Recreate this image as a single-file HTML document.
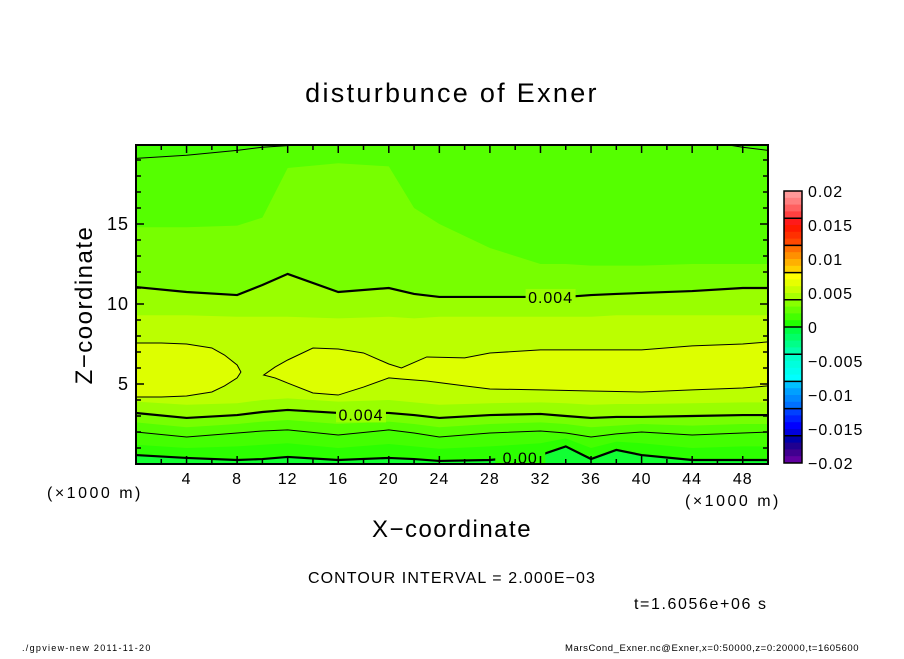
<!DOCTYPE html>
<html><head><meta charset="utf-8">
<style>
html,body{margin:0;padding:0;background:#fff;}
svg text{font-family:"Liberation Sans",sans-serif;fill:#000;}
</style></head>
<body>
<svg id="chart" width="904" height="654" viewBox="0 0 904 654" xmlns="http://www.w3.org/2000/svg">
<defs><clipPath id="pc"><rect x="136" y="145" width="632" height="319"/></clipPath></defs>
<rect x="0" y="0" width="904" height="654" fill="#fff"/>
<text x="452" y="102" font-size="27" text-anchor="middle" letter-spacing="2.3">disturbunce of Exner</text>
<g id="fills" clip-path="url(#pc)"></g>
<g id="lines" clip-path="url(#pc)"></g>
<g id="labels" clip-path="url(#pc)"></g>
<rect x="136" y="145" width="632" height="319" fill="none" stroke="#000" stroke-width="2"/>
<g id="ticks"></g>
<text x="47" y="498" font-size="16" letter-spacing="2.5">(×1000 m)</text>
<text x="685" y="506" font-size="16" letter-spacing="2.5">(×1000 m)</text>
<text x="452" y="537" font-size="24" text-anchor="middle" letter-spacing="1.5">X−coordinate</text>
<text x="0" y="0" font-size="24" text-anchor="middle" letter-spacing="1.5" transform="translate(92,305) rotate(-90)">Z−coordinate</text>
<text x="452" y="583" font-size="16" text-anchor="middle" letter-spacing="1.1">CONTOUR INTERVAL = 2.000E−03</text>
<text x="634" y="609" font-size="16" letter-spacing="1.6">t=1.6056e+06 s</text>
<text x="22" y="651" font-size="9" letter-spacing="1.3">./gpview-new   2011-11-20</text>
<text x="565" y="651" font-size="9.5" letter-spacing="0.6">MarsCond_Exner.nc@Exner,x=0:50000,z=0:20000,t=1605600</text>
<g id="cbar"></g>
<script>
// ---- data ----
const xs = [0,4,8,10,12,16,20,22,24,28,32,34,36,38,40,44,48,50];
const top0 = [21,21,21,21,21,21,21,21,21,21,21,21,21,21,21,21,21,21];
const bot0 = [0.56,0.38,0.25,0.31,0.44,0.25,0.38,0.31,0.19,0.25,0.56,1.1,0.31,0.88,0.56,0.25,0.25,0.25];
const bot1 = [1.2,1.0,1.1,1.2,1.3,1.0,1.25,1.1,0.95,1.1,1.3,1.6,1.0,1.4,1.3,1.0,1.1,1.1];
const top2 = [19.1,19.3,19.6,19.8,19.9,20.2,20.6,21,21,21,21,21,21,21,21,20.3,19.8,19.6];
const bot2 = [2.0,1.69,1.94,2.06,2.13,1.81,2.13,1.94,1.69,1.94,2.06,1.94,1.69,1.88,2.0,1.81,1.94,2.0];
const top3 = [14.8,14.8,14.9,15.4,18.5,18.8,18.6,16,15,13.5,12.5,12.5,12.4,12.4,12.4,12.5,12.5,12.5];
const bot3 = [2.6,2.3,2.5,2.65,2.75,2.5,2.65,2.5,2.3,2.5,2.6,2.5,2.3,2.4,2.5,2.4,2.5,2.5];
const top4 = [11.06,10.75,10.56,11.19,11.88,10.75,11.0,10.63,10.44,10.44,10.44,10.44,10.56,10.63,10.69,10.81,11.0,11.0];
const bot4 = [3.19,2.88,3.06,3.25,3.38,3.19,3.19,3.06,2.88,3.06,3.13,3.0,2.88,2.94,2.94,3.0,3.06,3.06];
const top5 = [9.3,9.3,9.2,9.2,9.2,9.1,9.2,9.1,9.2,9.2,9.2,9.2,9.2,9.3,9.3,9.3,9.3,9.3];
const bot5 = [3.9,3.7,3.8,4.0,4.1,3.9,4.0,3.85,3.7,3.8,3.85,3.8,3.7,3.75,3.75,3.8,3.85,3.85];
const blobLx = [0,2,4,6,7,8,8.3];
const blobLtop = [7.56,7.56,7.5,7.25,6.81,6.19,5.75];
const blobLbot = [4.19,4.19,4.25,4.5,4.88,5.38,5.75];
const blobRx = [10.1,11,12,14,16,18,20,21,23,26,28,32,36,40,44,48,50];
const blobRtop = [5.56,6.06,6.5,7.25,7.19,6.94,6.25,6.0,6.69,6.63,6.94,7.13,7.13,7.13,7.38,7.5,7.63];
const blobRbot = [5.56,5.38,5.06,4.44,4.31,4.81,5.38,5.31,5.19,4.88,4.69,4.63,4.56,4.5,4.63,4.75,4.88];
const xTicks = [4,8,12,16,20,24,28,32,36,40,44,48];
const yTicks = [5,10,15];
const cbLabels = ["0.02","0.015","0.01","0.005","0","−0.005","−0.01","−0.015","−0.02"];
const cbColors = ["#ff9999","#ff7f7f","#ff6060","#ff4040","#ff1a1a","#ff1a00","#ff3000","#ff4800",
 "#ff7000","#ff9000","#ffb000","#ffd000","#ffff00","#e6ff00","#c8ff00","#a8ff00",
 "#88ff00","#66ff00","#44ff00","#22ff00","#00ff44","#00ff66","#00ff88","#00ffaa",
 "#00ffcc","#00ffdd","#00ffee","#00ffff","#00c0ff","#00a0ff","#0088ff","#0070ff",
 "#0040ff","#0020ff","#0000ff","#0000dd","#0000aa","#200090","#400090","#6000a0"];
// ---- axes ----
const X = x => 136 + x*632/50;
const Z = z => 464 - z*16;
const NS = "http://www.w3.org/2000/svg";
function mk(tag, parent, attrs){const e=document.createElementNS(NS,tag);for(const k in attrs)e.setAttribute(k,attrs[k]);parent.appendChild(e);return e;}
function band(xa, ta, ba){
  let d="M"+xa.map((x,i)=>X(x)+","+Z(ta[i])).join(" L");
  for(let i=xa.length-1;i>=0;i--) d+=" L"+X(xa[i])+","+Z(ba[i]);
  return d+" Z";
}
function line(xa, za){return "M"+xa.map((x,i)=>X(x)+","+Z(za[i])).join(" L");}
const fills=document.getElementById('fills');
let bg=mk('rect',fills,{x:136,y:145,width:632,height:319,fill:'#11ff33'});


const bands=[[xs,top0,bot0,'#2cff00','fill-level-0'],[xs,top0,bot1,'#44ff00','fill-level-1'],[xs,top2,bot2,'#55ff00','fill-level-2'],
 [xs,top3,bot3,'#77ff00','fill-level-3'],[xs,top4,bot4,'#99ff00','fill-level-4'],[xs,top5,bot5,'#bbff00','fill-level-5'],
 [blobLx,blobLtop,blobLbot,'#ddff00','fill-level-6-left'],[blobRx,blobRtop,blobRbot,'#ddff00','fill-level-6-right']];
bands.forEach(b=>{
  const p=mk('path',fills,{d:band(b[0],b[1],b[2]),fill:b[3]});
  
  
});
const lines=document.getElementById('lines');
const cl=[[xs,bot0,2.2,'contour-0-000'],[xs,bot2,1,'contour-0-002-low'],[xs,top2,1,'contour-0-002-high'],
 [xs,bot4,2.2,'contour-0-004-low'],[xs,top4,2.2,'contour-0-004-high']];
cl.forEach(c=>{
  const p=mk('path',lines,{d:line(c[0],c[1]),fill:'none',stroke:'#000','stroke-width':c[2]});
  
  
});
[[blobLx,blobLtop,blobLbot,'contour-0-006-left'],[blobRx,blobRtop,blobRbot,'contour-0-006-right']].forEach(c=>{
  const p=mk('path',lines,{d:band(c[0],c[1],c[2]),fill:'none',stroke:'#000','stroke-width':1});
  
  
});
// contour labels
const labs=document.getElementById('labels');
[[32.8,10.44,'0.004','#99ff00'],[17.8,3.1,'0.004','#99ff00'],[30.4,0.4,'0.00','#2cff00']].forEach(l=>{
  const r=mk('rect',labs,{x:X(l[0])-25,y:Z(l[1])-8,width:50,height:16,fill:l[3]});
  
  
  const t=mk('text',labs,{x:X(l[0]),y:Z(l[1])+6,'font-size':16,'text-anchor':'middle','letter-spacing':1});
  t.textContent=l[2];
  
  
});
// ticks
const tk=document.getElementById('ticks');
for(let x=2;x<50;x+=2){
  const L=(x%4===0)?8:5;
  const a=mk('line',tk,{x1:X(x),x2:X(x),y1:464,y2:464-L,stroke:'#000','stroke-width':1.5});
  
  
  const b=mk('line',tk,{x1:X(x),x2:X(x),y1:145,y2:145+L,stroke:'#000','stroke-width':1.5});
  
  
}
for(let z=1;z<20;z++){
  const L=(z%5===0)?8:5;
  const a=mk('line',tk,{x1:136,x2:136+L,y1:Z(z),y2:Z(z),stroke:'#000','stroke-width':1.5});
  
  
  const b=mk('line',tk,{x1:768,x2:768-L,y1:Z(z),y2:Z(z),stroke:'#000','stroke-width':1.5});
  
  
}
xTicks.forEach(x=>{
  const t=mk('text',tk,{x:X(x),y:484,'font-size':16,'text-anchor':'middle','letter-spacing':1});
  t.textContent=x;
  
  
});
yTicks.forEach(z=>{
  const t=mk('text',tk,{x:129,y:Z(z)+6,'font-size':18,'text-anchor':'end','letter-spacing':1});
  t.textContent=z;
  
  
});
// colorbar
const cb=document.getElementById('cbar');
const cbTop=191, cbBot=463, cbH=(cbBot-cbTop)/cbColors.length;
cbColors.forEach((c,i)=>{
  const r=mk('rect',cb,{x:784,y:cbTop+i*cbH,width:18,height:cbH+0.5,fill:c});
  
  
});
for(let i=1;i<10;i++){
  const l=mk('line',cb,{x1:784,x2:802,y1:cbTop+i*4*cbH,y2:cbTop+i*4*cbH,stroke:'#000','stroke-width':1.5});
  
  
}
const fr=mk('rect',cb,{x:784,y:cbTop,width:18,height:cbBot-cbTop,fill:'none',stroke:'#000','stroke-width':1.5});


cbLabels.forEach((s,i)=>{
  const t=mk('text',cb,{x:808,y:cbTop+i*(cbBot-cbTop)/8+6,'font-size':16,'letter-spacing':1});
  t.textContent=s;
  
  
});
</script>
</svg>
</body></html>
